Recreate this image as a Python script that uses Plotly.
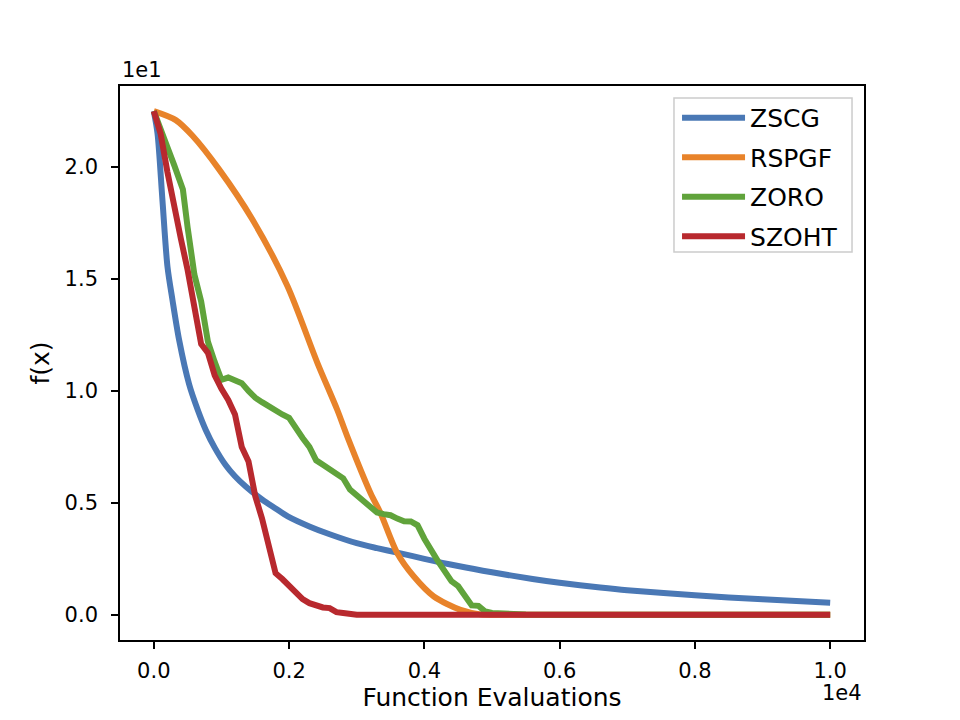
import plotly.graph_objects as go

# ---- data (f(x) in real units; axis shows them scaled by 1e1, evaluations scaled by 1e4) ----
zscg_x = [0, 55, 128, 202, 276, 374, 522, 650, 768, 900, 1064, 1200, 1359, 1600,
          1800, 1980, 2300, 2600, 3000, 3300, 3600, 4000, 4500, 5000, 5600, 6000, 6600, 7000,
          8000, 9000, 10000]
zscg_y = [22.5, 21.5, 18.5, 15.55, 14.06, 12.28, 10.3, 9.15, 8.26, 7.47, 6.68, 6.19, 5.73, 5.15,
          4.75, 4.4, 3.95, 3.6, 3.2, 2.98, 2.78, 2.5, 2.18, 1.9, 1.6, 1.43, 1.22, 1.1,
          0.87, 0.69, 0.54]

rspgf_x = [0, 325, 572, 965, 1458, 1975, 2418, 2713, 2861, 3205, 3353, 3600, 3845, 4140, 4535,
           4830, 5200, 6000, 7000, 8000, 9000, 10000]
rspgf_y = [22.5, 22.1, 21.4, 19.9, 17.66, 14.69, 11.26, 9.15, 7.96, 5.43, 4.54, 2.75, 1.71, 0.82,
           0.22, 0.02, 0.0, 0.0, 0.0, 0.0, 0.0, 0.0]

zoro_x = [0, 100, 200, 300, 400, 430, 500, 600, 700, 720, 800, 900, 1000, 1100, 1200, 1300, 1400,
          1500, 1600, 1700, 1800, 1900, 2000, 2100, 2200, 2300, 2400, 2500, 2600, 2700, 2800, 2900,
          3000, 3100, 3200, 3300, 3400, 3500, 3600, 3700, 3800, 3900, 4000, 4100, 4200, 4300, 4400,
          4500, 4600, 4700, 4800, 4900, 5000, 5200, 5500, 6000, 7000, 8000, 9000, 10000]
zoro_y = [22.5, 21.6, 20.9, 20.1, 19.3, 19.0, 17.3, 15.2, 14.0, 13.6, 12.2, 11.3, 10.5, 10.6, 10.5,
          10.35, 10.0, 9.7, 9.5, 9.3, 9.1, 8.95, 8.8, 8.3, 7.9, 7.5, 6.9, 6.7, 6.5, 6.3, 6.1, 5.6,
          5.35, 5.13, 4.85, 4.57, 4.5, 4.45, 4.3, 4.18, 4.17, 4.0, 3.4, 2.85, 2.4, 1.95, 1.5,
          1.28, 0.85, 0.42, 0.4, 0.15, 0.08, 0.04, 0.01, 0.0, 0.0, 0.0, 0.0, 0.0]

szoht_x = [0, 100, 200, 300, 400, 500, 600, 700, 800, 900, 1000, 1100, 1200, 1300, 1400, 1500,
           1600, 1700, 1800, 1900, 2000, 2100, 2200, 2300, 2400, 2500, 2600, 2700, 2800, 2900, 3000,
           4000, 5000, 6000, 7000, 8000, 9000, 10000]
szoht_y = [22.5, 21.5, 19.8, 18.2, 16.8, 15.4, 13.6, 12.1, 11.7, 10.7, 10.1, 9.6, 8.95, 7.5, 6.85,
           5.3, 4.3, 3.2, 1.86, 1.6, 1.3, 0.95, 0.7, 0.52, 0.4, 0.33, 0.3, 0.12, 0.08, 0.02, 0.0,
           0.0, 0.0, 0.0, 0.0, 0.0, 0.0, 0.0]

series_names = ["ZSCG", "RSPGF", "ZORO", "SZOHT"]
series_colors = ["#4a78b5", "#e8832a", "#60a33b", "#b8292e"]
series_shapes = ["spline", "spline", "linear", "linear"]

x_tickvals = [0, 2000, 4000, 6000, 8000, 10000]
x_ticktext = ["0.0", "0.2", "0.4", "0.6", "0.8", "1.0"]
y_tickvals = [0, 5, 10, 15, 20]
y_ticktext = ["0.0", "0.5", "1.0", "1.5", "2.0"]

FONT = "DejaVu Sans"

fig = go.Figure()
for name, color, shp, xs, ys in zip(series_names, series_colors, series_shapes,
                                    [zscg_x, rspgf_x, zoro_x, szoht_x],
                                    [zscg_y, rspgf_y, zoro_y, szoht_y]):
    fig.add_trace(go.Scatter(x=xs, y=ys, mode="lines", name=name, legendgroup=name,
                             line=dict(color=color, width=6, shape=shp, smoothing=0.8)))

axis_common = dict(showline=True, linecolor="black", linewidth=1.6, mirror=True,
                   ticks="outside", ticklen=7, tickwidth=1.6, tickcolor="black",
                   showgrid=False, zeroline=False,
                   tickfont=dict(family=FONT, size=21, color="black"))

# page is offset by the 8px body margin, so margins compensate
fig.update_layout(
    width=960, height=720,
    paper_bgcolor="white", plot_bgcolor="white",
    margin=dict(l=112, r=104, t=78, b=88, autoexpand=False),
    font=dict(family=FONT, color="black"),
    xaxis=dict(range=[-500, 10500], tickvals=x_tickvals, ticktext=x_ticktext,
               title=dict(text="Function Evaluations", font=dict(family=FONT, size=25), standoff=3),
               ticklabelstandoff=4, **axis_common),
    yaxis=dict(range=[-1.125, 23.625], tickvals=y_tickvals, ticktext=y_ticktext,
               title=dict(text="f(x)", font=dict(family=FONT, size=25), standoff=8),
               ticklabelstandoff=9, **axis_common),
    legend=dict(x=0.7487, y=0.9838, xanchor="left", yanchor="top",
                bgcolor="rgba(0,0,0,0)", borderwidth=0,
                font=dict(family=FONT, size=25), itemwidth=63, tracegroupgap=4),
    showlegend=True,
    shapes=[dict(type="rect", xref="paper", yref="paper", x0=0.7446, x1=0.9839,
                 y0=0.7004, y1=0.9783, line=dict(color="#cccccc", width=1.5),
                 fillcolor="rgba(255,255,255,0.8)", layer="below")],
)

fig.add_annotation(text="1e1", xref="paper", yref="paper", x=0, y=1, xanchor="left",
                   yanchor="bottom", yshift=2, showarrow=False,
                   font=dict(family=FONT, size=21, color="black"))
fig.add_annotation(text="1e4", xref="paper", yref="paper", x=1, y=0, xanchor="right",
                   yanchor="top", yshift=-39, showarrow=False,
                   font=dict(family=FONT, size=21, color="black"))

fig.write_html("out.html")
